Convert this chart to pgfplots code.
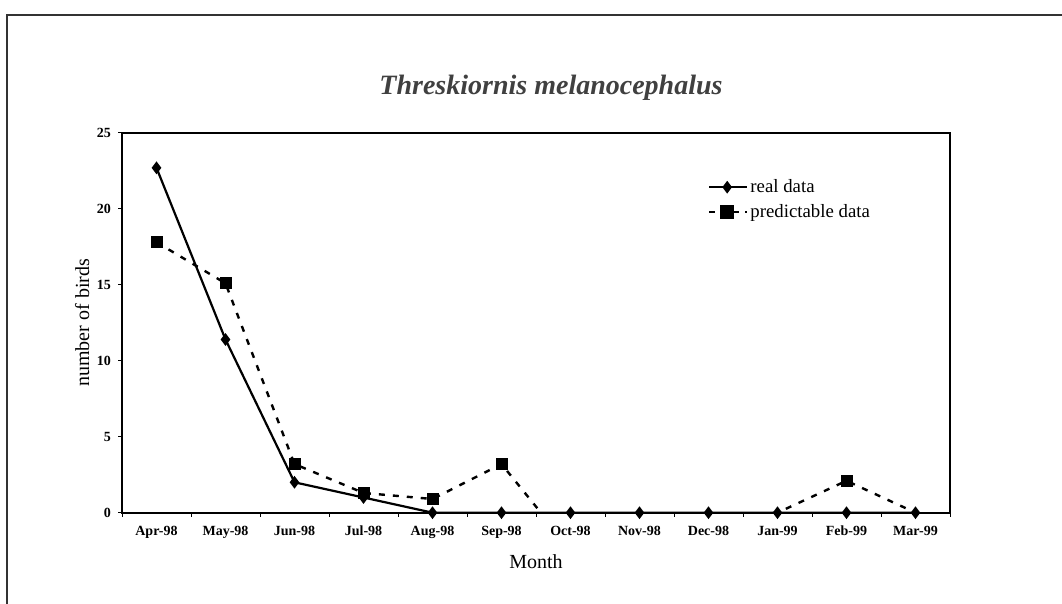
\documentclass[border=0pt]{standalone}
\usepackage{pgfplots}
\pgfplotsset{compat=1.18}
\usepackage{fontspec}
\setmainfont{Liberation Serif}

\begin{document}
\begin{tikzpicture}[x=1pt,y=1pt]
\useasboundingbox (0,0) rectangle (531,302);
% page frame (top and left edge visible)
\draw[line width=0.8pt,black!80] (3.5,0) -- (3.5,294.5) -- (531,294.5);
\node[font=\fontsize{14}{16}\selectfont\bfseries\itshape,text=black!75] at (275.5,258) {Threskiornis melanocephalus};

\begin{axis}[
    at={(61pt,45.65pt)}, anchor=south west,
    scale only axis,
    width=414pt, height=189.9pt,
    xmin=-0.5, xmax=11.5,
    ymin=0, ymax=25,
    xtick={0,...,11},
    xticklabels={Apr-98,May-98,Jun-98,Jul-98,Aug-98,Sep-98,Oct-98,Nov-98,Dec-98,Jan-99,Feb-99,Mar-99},
    major x tick style={draw=none},
    minor xtick={-0.5,0.5,...,11.5},
    minor tick length=2pt,
    ytick={0,5,...,25},
    tick align=outside,
    major tick length=2pt,
    xtick pos=bottom, ytick pos=left,
    tick style={black, line width=0.5pt},
    axis line style={line width=0.9pt},
    ticklabel style={font=\fontsize{7}{8}\selectfont\bfseries},
    /pgf/number format/assume math mode=true,
    xticklabel style={yshift=-1pt},
    xlabel={Month}, ylabel={number of birds},
    label style={font=\fontsize{11.5}{13}\selectfont},
    every axis x label/.style={at={(axis description cs:0.5,-0.13)}, anchor=center},
    every axis y label/.style={at={(axis description cs:-0.048,0.5)}, rotate=90, anchor=center},
    legend style={at={(axis description cs:0.70,0.895)}, anchor=north west, draw=none, fill=none,
        font=\fontsize{9.4}{11}\selectfont, row sep=2.5pt,
        nodes={inner sep=1pt}},
    legend image code/.code={
        \draw[mark repeat=2,mark phase=2,#1] plot coordinates {(0pt,0pt) (9pt,0pt) (19pt,0pt)};
    },
    legend cell align=left,
]
% predicted series: dashed line, then the visible marks
\addplot[black, line width=1.2pt, dash pattern=on 3pt off 4pt, forget plot]
  coordinates {
(0,17.8) (1,15.1) (2,3.2) (3,1.3) (4,0.9) (5,3.2)
(6,-2.4) (7,-2.0) (8,-0.3) (9,0) (10,2.1) (11,0)
};
\addplot[only marks, black, mark=square*, mark size=2.8pt, forget plot]
  coordinates {
(0,17.8) (1,15.1) (2,3.2) (3,1.3) (4,0.9) (5,3.2) (10,2.1)
};
\addplot[black, line width=1.1pt, mark=diamond*, mark size=2.3pt]
  coordinates {
(0,22.7) (1,11.4) (2,2.0) (3,1.0) (4,0) (5,0)
(6,0) (7,0) (8,0) (9,0) (10,0) (11,0)
};
\addlegendentry{real data}
\addlegendimage{black, line width=1.2pt, dash pattern=on 3pt off 3pt, mark=square*, mark size=2.8pt, mark options={solid}}
\addlegendentry{predictable data}
\end{axis}
\end{tikzpicture}
\end{document}
